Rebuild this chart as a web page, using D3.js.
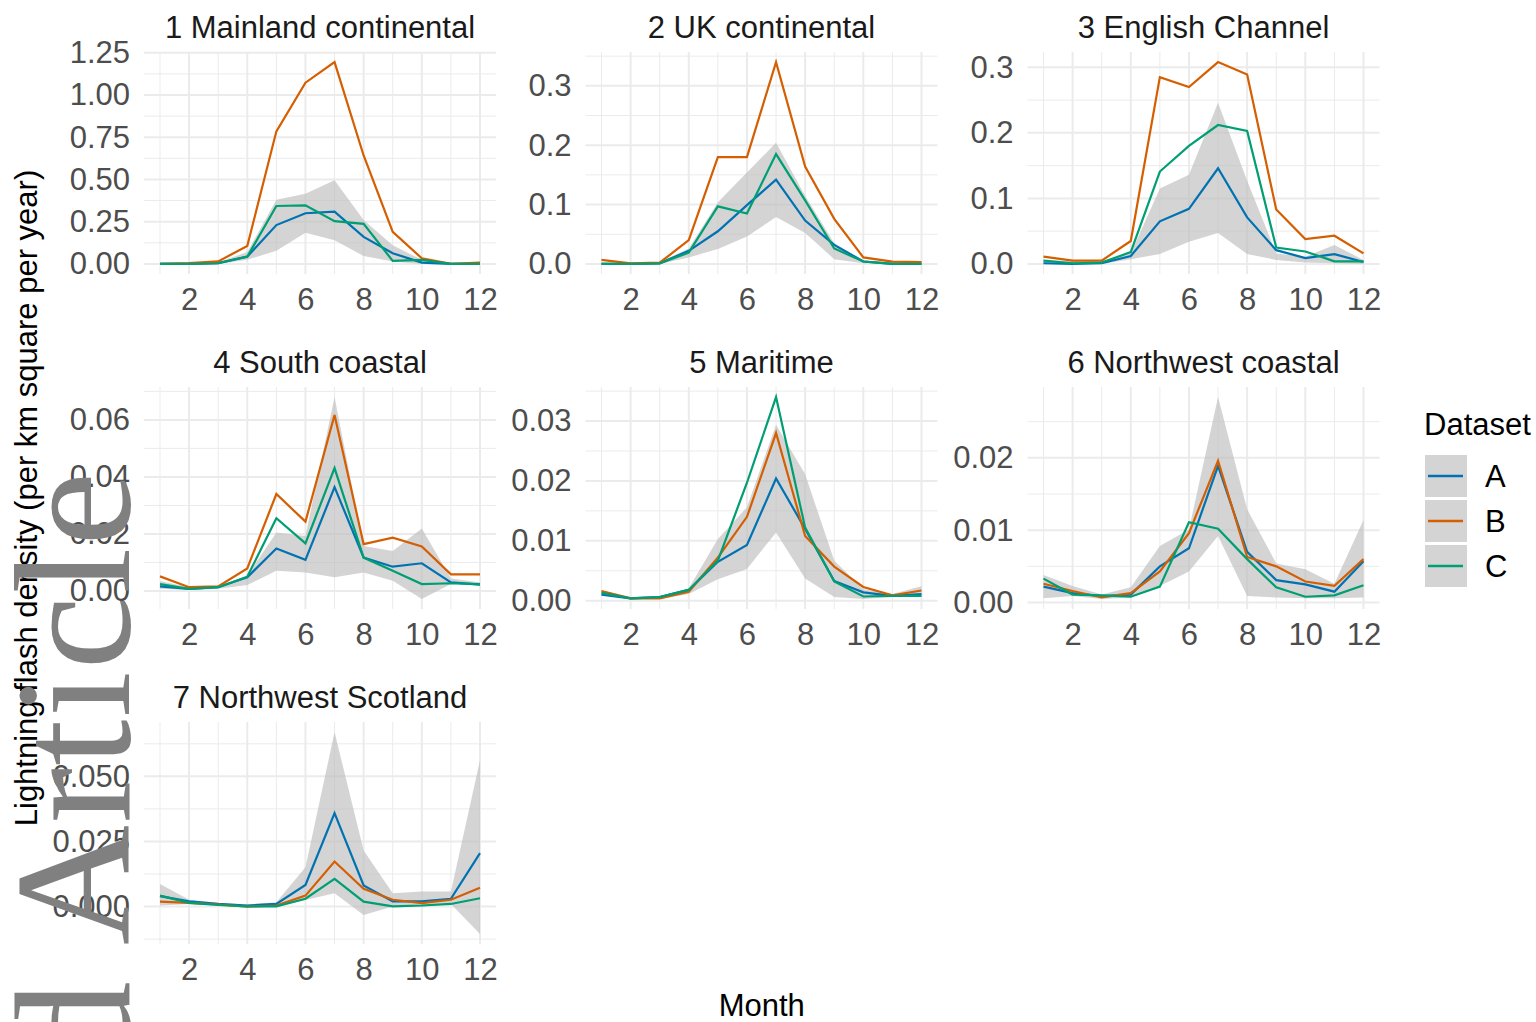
<!DOCTYPE html>
<html>
<head>
<meta charset="utf-8">
<script src="https://cdn.jsdelivr.net/npm/d3@7"></script>
<style>
  body{margin:0;background:#fff;}
  .canvas text{font-family:"Liberation Sans",Arial,sans-serif;}
</style>
</head>
<body>
<div class="canvas"></div>
<script>
// months on the x axis and the facet names
var months = [1,2,3,4,5,6,7,8,9,10,11,12];
var xTicks = [2,4,6,8,10,12];
var regions = ["1 Mainland continental","2 UK continental","3 English Channel",
               "4 South coastal","5 Maritime","6 Northwest coastal","7 Northwest Scotland"];
var datasets = ["A","B","C"];
var colors = ["#0072B2","#D55E00","#009E73"];

// 1 Mainland continental
var r1A  = [0.000,0.000,0.005,0.043,0.230,0.300,0.310,0.160,0.063,0.008,0.000,0.000];
var r1B  = [0.000,0.005,0.015,0.106,0.785,1.073,1.195,0.642,0.190,0.033,0.000,0.008];
var r1C  = [0.000,0.000,0.004,0.043,0.343,0.347,0.253,0.237,0.018,0.024,0.000,0.000];
var r1lo = [0.000,0.000,0.000,0.024,0.078,0.185,0.140,0.047,0.014,0.000,0.000,0.000];
var r1hi = [0.005,0.005,0.010,0.070,0.380,0.416,0.495,0.260,0.110,0.024,0.005,0.005];
// 2 UK continental
var r2A  = [0.000,0.000,0.001,0.022,0.055,0.099,0.142,0.073,0.032,0.004,0.000,0.000];
var r2B  = [0.0067,0.001,0.002,0.040,0.180,0.180,0.340,0.164,0.076,0.011,0.004,0.003];
var r2C  = [0.000,0.000,0.001,0.019,0.097,0.085,0.185,0.107,0.026,0.004,0.000,0.000];
var r2lo = [0.000,0.000,0.000,0.011,0.025,0.046,0.079,0.052,0.008,0.001,0.000,0.000];
var r2hi = [0.002,0.002,0.003,0.026,0.104,0.154,0.204,0.115,0.035,0.006,0.003,0.003];
// 3 English Channel
var r3A  = [0.001,0.000,0.001,0.012,0.065,0.084,0.146,0.071,0.021,0.009,0.015,0.003];
var r3B  = [0.011,0.005,0.005,0.035,0.285,0.270,0.308,0.289,0.083,0.038,0.043,0.016];
var r3C  = [0.005,0.001,0.002,0.018,0.141,0.180,0.212,0.203,0.025,0.019,0.004,0.004];
var r3lo = [0.000,0.000,0.000,0.007,0.015,0.034,0.047,0.015,0.006,0.002,0.001,0.000];
var r3hi = [0.006,0.004,0.004,0.016,0.115,0.136,0.246,0.127,0.016,0.011,0.029,0.006];
// 4 South coastal
var r4A  = [0.0016,0.0007,0.0013,0.0048,0.0149,0.0109,0.0364,0.0117,0.0085,0.0097,0.0030,0.0022];
var r4B  = [0.0051,0.0013,0.0016,0.0079,0.0340,0.0243,0.0617,0.0164,0.0187,0.0156,0.0058,0.0058];
var r4C  = [0.0024,0.0007,0.0013,0.0050,0.0255,0.0167,0.0431,0.0117,0.0071,0.0024,0.0027,0.0024];
var r4lo = [0.0008,0.0003,0.0008,0.0021,0.0071,0.0065,0.0048,0.0065,0.0036,-0.0028,0.0024,0.0019];
var r4hi = [0.0035,0.0013,0.0016,0.0053,0.0205,0.0193,0.0680,0.0158,0.0140,0.0219,0.0044,0.0030];
// 5 Maritime
var r5A  = [0.0010,0.0004,0.0006,0.0018,0.0065,0.0093,0.0204,0.0120,0.0033,0.0014,0.0008,0.0011];
var r5B  = [0.0016,0.0004,0.0004,0.0015,0.0072,0.0140,0.0280,0.0108,0.0057,0.0023,0.0009,0.0017];
var r5C  = [0.0013,0.0004,0.0006,0.0018,0.0067,0.0197,0.0340,0.0122,0.0032,0.0007,0.0008,0.0008];
var r5lo = [0.0010,0.0003,0.0003,0.0011,0.0036,0.0053,0.0114,0.0037,0.0006,0.0003,0.0006,0.0008];
var r5hi = [0.0017,0.0006,0.0008,0.0021,0.0103,0.0156,0.0294,0.0211,0.0067,0.0019,0.0011,0.0024];
// 6 Northwest coastal
var r6A  = [0.0022,0.0013,0.0009,0.0011,0.0050,0.0075,0.0189,0.0070,0.0031,0.0025,0.0015,0.0057];
var r6B  = [0.0026,0.0016,0.0007,0.0013,0.0043,0.0096,0.0196,0.0063,0.0050,0.0029,0.0023,0.0060];
var r6C  = [0.0033,0.0011,0.0010,0.0008,0.0022,0.0111,0.0102,0.0060,0.0021,0.0008,0.0010,0.0024];
var r6lo = [0.0006,0.0009,0.0005,0.0007,0.0023,0.0043,0.0092,0.0009,0.0007,0.0006,0.0006,0.0007];
var r6hi = [0.0038,0.0023,0.0011,0.0021,0.0078,0.0101,0.0284,0.0129,0.0054,0.0046,0.0026,0.0114];
// 7 Northwest Scotland
var r7A  = [0.0040,0.0020,0.0010,0.0004,0.0010,0.0083,0.0359,0.0081,0.0020,0.0020,0.0030,0.0205];
var r7B  = [0.0019,0.0014,0.0008,0.0000,0.0004,0.0042,0.0173,0.0068,0.0026,0.0013,0.0026,0.0072];
var r7C  = [0.0042,0.0014,0.0006,0.0001,0.0001,0.0030,0.0106,0.0019,0.0001,0.0004,0.0010,0.0032];
var r7lo = [0.0004,0.0010,0.0006,0.0000,0.0000,0.0025,0.0051,-0.0032,0.0000,0.0000,0.0010,-0.0105];
var r7hi = [0.0087,0.0026,0.0014,0.0008,0.0017,0.0151,0.0670,0.0215,0.0051,0.0058,0.0058,0.0562];

// y breaks for each facet (free scales)
var yTicks = [[0,0.25,0.5,0.75,1,1.25],[0,0.1,0.2,0.3],[0,0.1,0.2,0.3],
              [0,0.02,0.04,0.06],[0,0.01,0.02,0.03],[0,0.01,0.02],[0,0.025,0.05]];
var yFormats = [".2f",".1f",".1f",".2f",".2f",".2f",".3f"];

var lines = [[r1A,r1B,r1C],[r2A,r2B,r2C],[r3A,r3B,r3C],[r4A,r4B,r4C],[r5A,r5B,r5C],[r6A,r6B,r6C],[r7A,r7B,r7C]];
var lows  = [r1lo,r2lo,r3lo,r4lo,r5lo,r6lo,r7lo];
var highs = [r1hi,r2hi,r3hi,r4hi,r5hi,r6hi,r7hi];

var width = 1536, height = 1022;
var panelX = [144, 585.5, 1027.5];
var panelY = [52, 387, 722];
var pw = 352, ph = 222;
var fontSize = 31;

var svg = d3.select(".canvas").append("svg")
    .attr("width", width)
    .attr("height", height);

for (var p = 0; p < regions.length; p++) {
  var col = p % 3, row = Math.floor(p / 3);
  var x0 = panelX[col], y0 = panelY[row];

  // domain like ggplot: data range + 5%
  var all = lows[p].concat(highs[p], lines[p][0], lines[p][1], lines[p][2]);
  var mn = d3.min(all), mx = d3.max(all), pad = (mx - mn) * 0.05;
  var xs = d3.scaleLinear().domain([0.45, 12.55]).range([x0, x0 + pw]);
  var ys = d3.scaleLinear().domain([mn - pad, mx + pad]).range([y0 + ph, y0]);

  var g = svg.append("g");

  // minor grid
  var step = yTicks[p][1] - yTicks[p][0];
  var minorY = [];
  for (var v = yTicks[p][0] - step / 2; v <= mx + pad; v += step) {
    if (v >= mn - pad) minorY.push(v);
  }
  g.selectAll(".minY").data(minorY).enter().append("line")
    .attr("x1", x0).attr("x2", x0 + pw)
    .attr("y1", function(d){ return ys(d); }).attr("y2", function(d){ return ys(d); })
    .attr("stroke", "#ebebeb").attr("stroke-width", 1);
  g.selectAll(".minX").data([1,3,5,7,9,11]).enter().append("line")
    .attr("x1", function(d){ return xs(d); }).attr("x2", function(d){ return xs(d); })
    .attr("y1", y0).attr("y2", y0 + ph)
    .attr("stroke", "#ebebeb").attr("stroke-width", 1);

  // major grid
  g.selectAll(".majY").data(yTicks[p]).enter().append("line")
    .attr("x1", x0).attr("x2", x0 + pw)
    .attr("y1", function(d){ return ys(d); }).attr("y2", function(d){ return ys(d); })
    .attr("stroke", "#ebebeb").attr("stroke-width", 2);
  g.selectAll(".majX").data(xTicks).enter().append("line")
    .attr("x1", function(d){ return xs(d); }).attr("x2", function(d){ return xs(d); })
    .attr("y1", y0).attr("y2", y0 + ph)
    .attr("stroke", "#ebebeb").attr("stroke-width", 2);

  // ribbon
  var lo = lows[p], hi = highs[p];
  var area = d3.area()
    .x(function(d, i){ return xs(months[i]); })
    .y0(function(d, i){ return ys(lo[i]); })
    .y1(function(d, i){ return ys(hi[i]); });
  g.append("path").datum(months).attr("d", area)
    .attr("fill", "#bdbdbd").attr("fill-opacity", 0.65);

  // lines A, B, C
  for (var k = 0; k < 3; k++) {
    var line = d3.line()
      .x(function(d, i){ return xs(months[i]); })
      .y(function(d){ return ys(d); });
    g.append("path").datum(lines[p][k]).attr("d", line)
      .attr("fill", "none").attr("stroke", colors[k]).attr("stroke-width", 2.2);
  }

  // axes text
  var yAxis = d3.axisLeft(ys).tickValues(yTicks[p]).tickFormat(d3.format(yFormats[p]))
    .tickSize(0).tickPadding(14);
  var ya = g.append("g").attr("transform", "translate(" + x0 + ",0)").call(yAxis);
  var xAxis = d3.axisBottom(xs).tickValues(xTicks).tickSize(0).tickPadding(14);
  var xa = g.append("g").attr("transform", "translate(0," + (y0 + ph) + ")").call(xAxis);
  [ya, xa].forEach(function(a){
    a.select(".domain").remove();
    a.selectAll("text").attr("font-size", fontSize).attr("fill", "#4d4d4d")
      .attr("font-family", "Liberation Sans, Arial, sans-serif");
  });

  // facet title
  g.append("text").text(regions[p])
    .attr("x", x0 + pw / 2).attr("y", y0 - 14)
    .attr("text-anchor", "middle").attr("font-size", fontSize).attr("fill", "#1a1a1a");
}

// axis titles
svg.append("text").text("Month")
  .attr("x", (panelX[0] + panelX[2] + pw) / 2).attr("y", 1016)
  .attr("text-anchor", "middle").attr("font-size", fontSize).attr("fill", "#000");
svg.append("text").text("Lightning flash density (per km square per year)")
  .attr("transform", "translate(37," + (panelY[0] + panelY[2] + ph) / 2 + ") rotate(-90)")
  .attr("text-anchor", "middle").attr("font-size", fontSize).attr("fill", "#000");

// legend
var lg = svg.append("g");
lg.append("text").text("Dataset").attr("x", 1424).attr("y", 435)
  .attr("font-size", fontSize).attr("fill", "#000");
var keys = lg.selectAll(".key").data(datasets).enter().append("g")
  .attr("transform", function(d, i){ return "translate(1425," + (455 + i * 45) + ")"; });
keys.append("rect").attr("width", 42).attr("height", 42)
  .attr("fill", "#bdbdbd").attr("fill-opacity", 0.65);
keys.append("line").attr("x1", 3).attr("x2", 38).attr("y1", 21).attr("y2", 21)
  .attr("stroke", function(d, i){ return colors[i]; }).attr("stroke-width", 2.5);
keys.append("text").text(function(d){ return d; })
  .attr("x", 60).attr("y", 32).attr("font-size", fontSize).attr("fill", "#000");

// watermark on top
svg.append("text").text("Accepted Article")
  .attr("transform", "translate(129,470) rotate(-90)")
  .attr("text-anchor", "end")
  .style("font-family", "'Liberation Serif','Times New Roman',serif")
  .style("letter-spacing", "2px")
  .attr("font-size", 166).attr("fill", "#808080");
</script>
</body>
</html>
